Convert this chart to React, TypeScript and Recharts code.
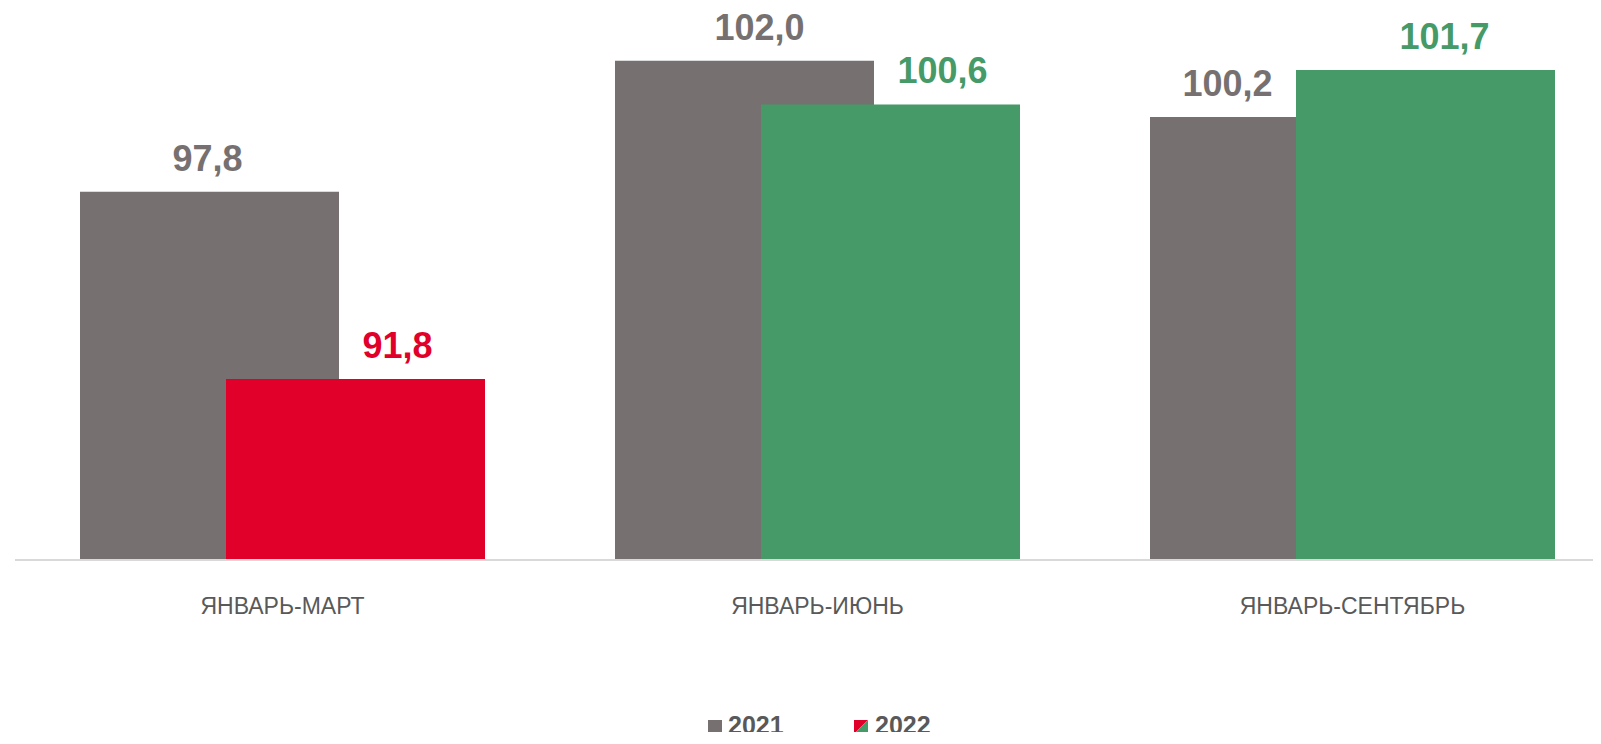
import { Bar, BarChart, Cell, LabelList, XAxis, YAxis } from 'recharts';

const periods = ['ЯНВАРЬ-МАРТ', 'ЯНВАРЬ-ИЮНЬ', 'ЯНВАРЬ-СЕНТЯБРЬ'];
const values2021 = [97.8, 102.0, 100.2];
const values2022 = [91.8, 100.6, 101.7];

const GRAY = '#767170';
const RED = '#E1002A';
const GREEN = '#459A67';
const TEXT = '#595959';
const FONT = '"Liberation Sans", Arial, sans-serif';

// 2022 is red when the index fell below 100, green otherwise
const colors2022 = values2022.map((v) => (v < 100 ? RED : GREEN));

// labels in the source are nudged sideways by hand
const labelShift2021 = [-2, 15, -52];
const labelShift2022 = [42, 52, 19];

const data = periods.map((period, i) => ({
  period,
  y2021: values2021[i],
  y2022: values2022[i],
}));

const fmt = (v: number) => v.toFixed(1).replace('.', ',');

function makeLabel(shift: number[], fills: string[]) {
  return (props: any) => {
    const { x, y, width, value, index } = props;
    return (
      <text
        x={Number(x) + Number(width) / 2 + shift[index]}
        y={Number(y) - 21}
        textAnchor="middle"
        fontFamily={FONT}
        fontSize={36}
        fontWeight="bold"
        fill={fills[index]}
      >
        {fmt(Number(value))}
      </text>
    );
  };
}

function PeriodTick(props: any) {
  const { x, y, payload } = props;
  return (
    <text x={x} y={Number(y) + 54} textAnchor="middle" fontFamily={FONT} fontSize={23} fill={TEXT}>
      {payload.value}
    </text>
  );
}

function LegendRow() {
  return (
    <svg width={1601} height={740} style={{ position: 'absolute', left: 0, top: 0, pointerEvents: 'none' }}>
      <rect x={708} y={720} width={14} height={14} fill={GRAY} />
      <text x={728} y={734} fontFamily={FONT} fontSize={25} fontWeight="bold" fill={TEXT}>
        2021
      </text>
      <polygon points="854,720 868,720 854,734" fill={RED} />
      <polygon points="868,720 868,734 854,734" fill={GREEN} />
      <text x={875} y={734} fontFamily={FONT} fontSize={25} fontWeight="bold" fill={TEXT}>
        2022
      </text>
    </svg>
  );
}

export default function App() {
  return (
    <div
      style={{
        margin: -8,
        width: 1601,
        height: 740,
        overflow: 'hidden',
        position: 'relative',
        background: '#fff',
        fontFamily: FONT,
      }}
    >
      <BarChart
        width={1620}
        height={740}
        data={data}
        margin={{ top: 29.5, right: 0, left: 15, bottom: 120 }}
        barSize={259}
        barGap={-113}
      >
        <XAxis
          dataKey="period"
          height={60}
          tickLine={false}
          tickSize={0}
          tickMargin={0}
          axisLine={{ stroke: '#D9D9D9', strokeWidth: 2 }}
          tick={<PeriodTick />}
          interval={0}
        />
        <YAxis hide domain={[86, 103]} allowDataOverflow />
        <Bar dataKey="y2021" fill={GRAY} isAnimationActive={false}>
          <LabelList dataKey="y2021" content={makeLabel(labelShift2021, values2021.map(() => GRAY))} />
        </Bar>
        <Bar dataKey="y2022" isAnimationActive={false}>
          {values2022.map((_, i) => (
            <Cell key={`c-${i}`} fill={colors2022[i]} />
          ))}
          <LabelList dataKey="y2022" content={makeLabel(labelShift2022, colors2022)} />
        </Bar>
      </BarChart>
      <LegendRow />
    </div>
  );
}
